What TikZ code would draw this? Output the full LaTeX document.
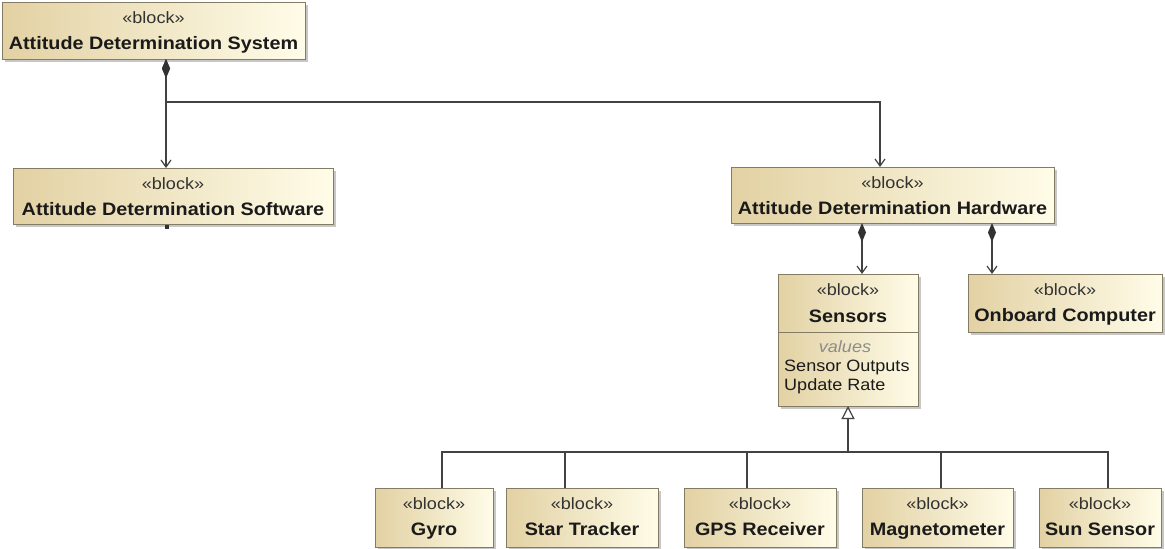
\documentclass[tikz,border=0pt]{standalone}
\usepackage{fontspec}
\setmainfont{Liberation Sans}[FakeStretch=1.1]
\usetikzlibrary{arrows.meta,calc}

\definecolor{blkTan}{RGB}{226,209,163}
\definecolor{blkCream}{RGB}{255,252,232}
\definecolor{blkEdge}{RGB}{132,124,98}
\definecolor{lineCol}{RGB}{66,66,66}
\definecolor{diamCol}{RGB}{50,50,50}
\definecolor{txtCol}{RGB}{26,26,26}
\definecolor{stereoCol}{RGB}{50,50,50}
\definecolor{valCol}{RGB}{140,140,140}

\newcommand\stereofont{\fontsize{16.4}{19}\selectfont}
\newcommand\titlefont{\fontsize{18}{21}\selectfont\bfseries}

\tikzset{
  blockbox/.style={draw=blkEdge, line width=0.9pt, left color=blkTan, right color=blkCream,
    inner sep=0pt, outer sep=0pt},
  blockshadow/.style={fill=black, opacity=0.22},
  stereo/.style={inner sep=0pt, text=stereoCol, font=\stereofont},
  title/.style={inner sep=0pt, text=txtCol, font=\titlefont},
  attr/.style={inner sep=0pt, text=txtCol, font=\stereofont},
  valhead/.style={inner sep=0pt, text=valCol, font=\stereofont\itshape},
  wire/.style={draw=lineCol, line width=1.2pt},
  comp/.style={wire, {Diamond[length=19pt,width=8pt,fill=diamCol,color=diamCol]}-{Straight Barb[length=7pt,width=10pt]}},
  gen/.style={wire, -{Triangle[open,length=13pt,width=13pt,fill=white]}},
}

% block with «block» stereotype and bold name: name, x1, y1, x2, y2, title
\newcommand\umlblock[6]{%
  \fill[blockshadow] (#2+3,#3+3) rectangle (#4+3,#5+3);
  \node[blockbox, anchor=north west, minimum width=#4-#2, minimum height=#5-#3] (#1) at (#2,#3) {};
  \node[stereo, anchor=base] (#1-st) at ($(#1.north)+(0,21)$) {«block»};
  \node[title, anchor=base] (#1-nm) at ($(#1.north)+(0,47)$) {#6};
}

\begin{document}
\begin{tikzpicture}[x=1pt, y=-1pt]
  \useasboundingbox (0,0) rectangle (1165,549);
  \fill[white] (0,0) rectangle (1165,549);

  % top level and its parts
  \umlblock{ads}{2}{2}{305}{59}{Attitude Determination System}
  \umlblock{sw}{13}{168}{333}{224}{Attitude Determination Software}
  \umlblock{hw}{731}{167}{1054}{223}{Attitude Determination Hardware}
  \umlblock{obc}{968}{274}{1162}{332}{Onboard Computer}

  % Sensors block with a values compartment
  \fill[blockshadow] (781,277) rectangle (921,409);
  \node[blockbox, anchor=north west, minimum width=140, minimum height=132] (sens) at (778,274) {};
  \draw[draw=blkEdge, line width=0.9pt] (sens.west |- 0,332) -- (sens.east |- 0,332);
  \node[stereo, anchor=base] (sens-st) at ($(sens.north)+(0,21.5)$) {«block»};
  \node[title, anchor=base] (sens-nm) at ($(sens.north)+(0,48)$) {Sensors};
  \node[valhead, anchor=base] (sens-vh) at ($(sens.north)+(-3,78)$) {values};
  \node[attr, anchor=base west] (sens-a1) at (784,371.5) {Sensor Outputs};
  \node[attr, anchor=base west] (sens-a2) at (784,390.5) {Update Rate};

  % sensor kinds
  \umlblock{gyro}{375}{488}{493}{547}{Gyro}
  \umlblock{star}{506}{488}{658}{547}{Star Tracker}
  \umlblock{gps}{684}{488}{836}{547}{GPS Receiver}
  \umlblock{mag}{862}{488}{1013}{547}{Magnetometer}
  \umlblock{sun}{1039}{488}{1161}{547}{Sun Sensor}

  % attachment points of the connectors
  \coordinate (adsP) at (166,59);
  \coordinate (adsBend) at (880,102);
  \coordinate (hwP1) at (862,223);
  \coordinate (hwP2) at (992,223);
  \coordinate (bus) at (848,452);

  % composition
  \draw[comp] (adsP) -- (adsP |- sw.north);
  \draw[comp] (adsP) |- (adsBend) -- (adsBend |- hw.north);
  \draw[comp] (hwP1) -- (hwP1 |- sens.north);
  \draw[comp] (hwP2) -- (hwP2 |- obc.north);
  \fill[diamCol] (165,224.5) rectangle (168.5,229);

  % generalization tree
  \draw[wire] (gyro.north -| 442,0) |- (bus);
  \draw[wire] (star.north -| 565,0) |- (bus);
  \draw[wire] (gps.north -| 747,0) |- (bus);
  \draw[wire] (mag.north -| 941,0) |- (bus);
  \draw[wire] (sun.north -| 1108,0) |- (bus);
  \draw[gen] (bus) -- (sens.south);
\end{tikzpicture}
\end{document}
